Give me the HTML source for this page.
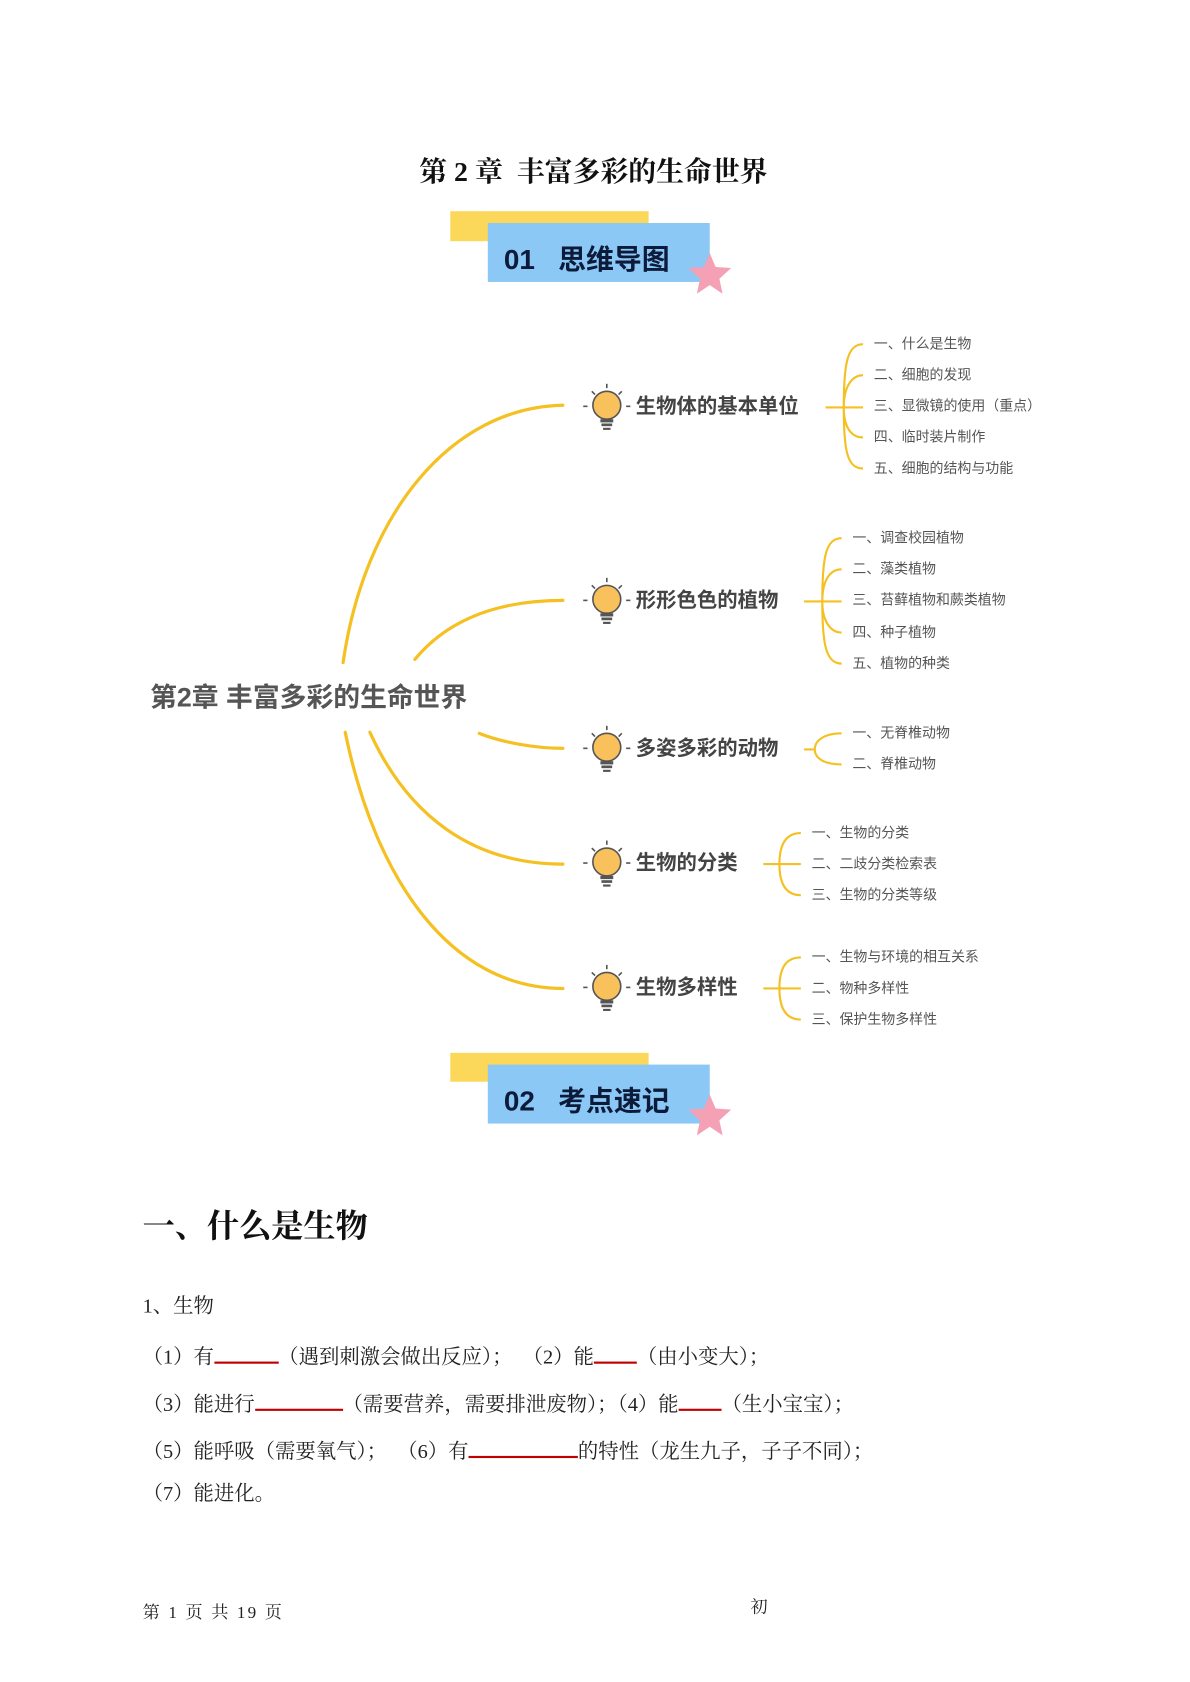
<!DOCTYPE html>
<html><head><meta charset="utf-8"><style>
html,body{margin:0;padding:0;background:#fff;width:1190px;height:1682px;overflow:hidden}
#w{position:absolute;left:0;top:0;width:1110px;height:1569px;transform:scale(1.0721);transform-origin:0 0}
.t{position:absolute;white-space:nowrap;line-height:1}
.sf{font-family:"Liberation Serif","Noto Serif CJK SC",serif}
.ss{font-family:"Liberation Sans","Noto Sans CJK SC",sans-serif}
.sub{font-size:13px;color:#555}
.br{font-size:19px;font-weight:bold;color:#444}
.bd{font-size:19px;color:#222}
u{text-decoration:none;border-bottom:2px solid #c00000;display:inline-block;height:17px;vertical-align:baseline}
</style></head><body><div id="w">
<div class="t sf" style="left:391px;top:148px;font-size:26px;font-weight:bold;color:#111">第 2 章&nbsp; 丰富多彩的生命世界</div>

<svg style="position:absolute;left:0;top:0" width="1110" height="1569">
<defs>
<g id="star"><polygon points="0,-20 5.5,-7 20,-6 9,4 12,18 0,10 -12,18 -9,4 -20,-6 -5.5,-7" fill="#f4a0b5"/></g>
<g id="bulb">
<circle cx="0" cy="-3" r="13" fill="#f9c15c" stroke="#555" stroke-width="1.5"/>
<rect x="-6" y="10" width="12" height="3" fill="#555"/><rect x="-5" y="14" width="10" height="2.5" fill="#555"/><rect x="-3.5" y="18" width="7" height="2" fill="#555"/>
<g stroke="#555" stroke-width="1.5"><line x1="0" y1="-23" x2="0" y2="-19"/><line x1="-14" y1="-16" x2="-11" y2="-13"/><line x1="14" y1="-16" x2="11" y2="-13"/><line x1="-22" y1="-2" x2="-18" y2="-2"/><line x1="18" y1="-2" x2="22" y2="-2"/></g>
</g>
</defs>
<rect x="420" y="197" width="185" height="28" fill="#fbd85a"/>
<rect x="455" y="208" width="207" height="55" fill="#8cc8f6"/>
<use href="#star" x="662" y="256"/>
<rect x="420" y="982" width="185" height="27" fill="#fbd85a"/>
<rect x="455" y="993" width="207" height="55" fill="#8cc8f6"/>
<use href="#star" x="662" y="1041"/>
<g fill="none" stroke="#f5c022" stroke-width="3" stroke-linecap="round">
<path d="M320,618 C340,480 420,380 525,378"/>
<path d="M387,615 C420,575 470,560 525,560"/>
<path d="M447,684 C470,693 500,698 525,698"/>
<path d="M345,683 C380,760 440,806 525,806"/>
<path d="M322,683 C350,820 420,922 525,922"/>
</g>
<g fill="none" stroke="#f5c022" stroke-width="2">
<path d="M770,380 H805 M787,380 C787,340 790,321 805,321 M787,380 C787,360 795,350 805,350 M787,380 C787,400 795,408 805,408 M787,380 C787,420 790,437 805,437"/>
<path d="M750,561 H785 M767,561 C767,520 770,502 785,502 M767,561 C767,540 775,531 785,531 M767,561 C767,580 775,590 785,590 M767,561 C767,600 770,619 785,619"/>
<path d="M750,699 H760 M760,699 C760,690 770,684 785,684 M760,699 C760,708 770,713 785,713"/>
<path d="M712,806 H747 M727,806 C727,785 735,777 747,777 M727,806 C727,827 735,835 747,835"/>
<path d="M712,922 H747 M727,922 C727,900 735,893 747,893 M727,922 C727,943 735,951 747,951"/>
</g>
<use href="#bulb" x="566" y="381"/>
<use href="#bulb" x="566" y="562"/>
<use href="#bulb" x="566" y="700"/>
<use href="#bulb" x="566" y="807"/>
<use href="#bulb" x="566" y="923"/>
</svg>

<div class="t ss" style="left:470px;top:229px;font-size:26px;font-weight:bold;color:#0d1b3a">01&nbsp;&nbsp;&nbsp;思维导图</div>
<div class="t ss" style="left:470px;top:1014px;font-size:26px;font-weight:bold;color:#0d1b3a">02&nbsp;&nbsp;&nbsp;考点速记</div>

<div class="t ss" style="left:140px;top:639px;font-size:25px;font-weight:bold;color:#555">第2章 丰富多彩的生命世界</div>

<div class="t ss br" style="left:593px;top:370px">生物体的基本单位</div>
<div class="t ss br" style="left:593px;top:551px">形形色色的植物</div>
<div class="t ss br" style="left:593px;top:689px">多姿多彩的动物</div>
<div class="t ss br" style="left:593px;top:796px">生物的分类</div>
<div class="t ss br" style="left:593px;top:912px">生物多样性</div>

<div class="t ss sub" style="left:815px;top:314px">一、什么是生物</div>
<div class="t ss sub" style="left:815px;top:343px">二、细胞的发现</div>
<div class="t ss sub" style="left:815px;top:372px">三、显微镜的使用（重点）</div>
<div class="t ss sub" style="left:815px;top:401px">四、临时装片制作</div>
<div class="t ss sub" style="left:815px;top:430px">五、细胞的结构与功能</div>

<div class="t ss sub" style="left:795px;top:495px">一、调查校园植物</div>
<div class="t ss sub" style="left:795px;top:524px">二、藻类植物</div>
<div class="t ss sub" style="left:795px;top:553px">三、苔藓植物和蕨类植物</div>
<div class="t ss sub" style="left:795px;top:583px">四、种子植物</div>
<div class="t ss sub" style="left:795px;top:612px">五、植物的种类</div>

<div class="t ss sub" style="left:795px;top:677px">一、无脊椎动物</div>
<div class="t ss sub" style="left:795px;top:706px">二、脊椎动物</div>

<div class="t ss sub" style="left:757px;top:770px">一、生物的分类</div>
<div class="t ss sub" style="left:757px;top:799px">二、二歧分类检索表</div>
<div class="t ss sub" style="left:757px;top:828px">三、生物的分类等级</div>

<div class="t ss sub" style="left:757px;top:886px">一、生物与环境的相互关系</div>
<div class="t ss sub" style="left:757px;top:915px">二、物种多样性</div>
<div class="t ss sub" style="left:757px;top:944px">三、保护生物多样性</div>

<div class="t sf" style="left:133px;top:1130px;font-size:30px;font-weight:bold;color:#111">一、什么是生物</div>

<div class="t sf bd" style="left:133px;top:1209px">1、生物</div>
<div class="t sf bd" style="left:133px;top:1253px">（1）有<u style="width:60px"></u>（遇到刺激会做出反应）；&nbsp;&nbsp;（2）能<u style="width:40px"></u>（由小变大）；</div>
<div class="t sf bd" style="left:133px;top:1297px">（3）能进行<u style="width:82px"></u>（需要营养，需要排泄废物）；（4）能<u style="width:40px"></u>（生小宝宝）；</div>
<div class="t sf bd" style="left:133px;top:1341px">（5）能呼吸（需要氧气）；&nbsp;&nbsp;（6）有<u style="width:102px"></u>的特性（龙生九子，子子不同）；</div>
<div class="t sf bd" style="left:133px;top:1384px">（7）能进化。</div>

<div class="t sf" style="left:133px;top:1497px;font-size:16px;color:#222;letter-spacing:2px">第 1 页 共 19 页</div>
<div class="t sf" style="left:700px;top:1492px;font-size:16px;color:#222">初</div>
</div></body></html>
